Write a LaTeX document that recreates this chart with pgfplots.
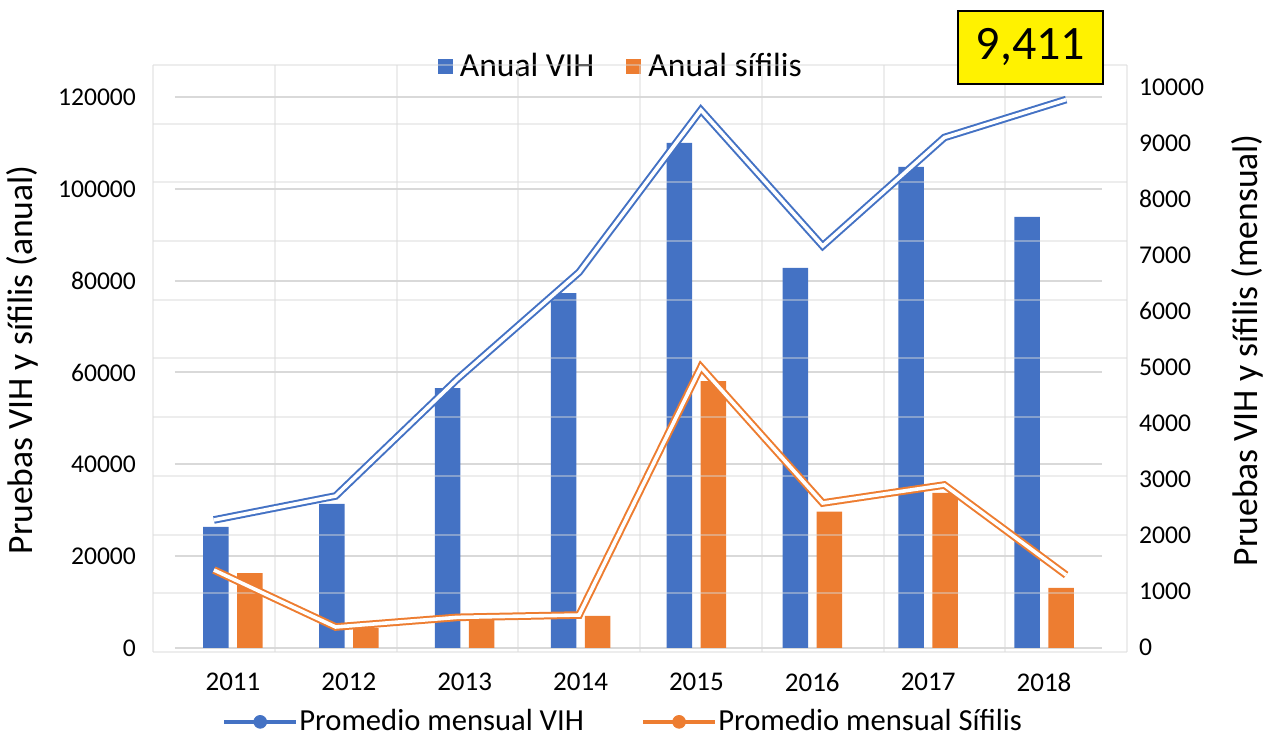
\documentclass[border=0pt]{standalone}
\usepackage{fontspec}
\setmainfont{Carlito}
\usepackage{pgfplots}
\usepackage{pgfplotstable}
\pgfplotsset{compat=1.18}
\definecolor{cBlue}{HTML}{4472C4}
\definecolor{cOrange}{HTML}{ED7D31}
\definecolor{cGrid}{HTML}{D9D9D9}
\definecolor{cFaint}{HTML}{D8D8D8}

% annual tests (left axis)
\pgfplotstableread{
idx VIH sifilis
0 26400 16300
1 31400 4400
2 56600 6800
3 77300 7000
4 110000 58100
5 82800 29700
6 104800 33800
7 93900 13100
}\anual

% monthly average (line chart, own 0-10000 scale)
\pgfplotstableread{
idx VIH sifilis
0 2249 1397
1 2658 426
2 4650 590
3 6470 630
4 9233 4855
5 6917 2538
6 8765 2845
7 9411 1312
}\mensual

\begin{document}
\begin{tikzpicture}
\useasboundingbox (-87.5pt,-45.5pt) rectangle (547.5pt,324pt);

% ---------------------------------------------------------------- bars
\begin{axis}[
  anchor=south west, at={(0pt,0pt)},
  width=463.5pt, height=275.5pt, scale only axis,
  xmin=-0.5, xmax=7.5, ymin=0, ymax=120000,
  ybar, bar width=0.22,
  xtick={0,...,7}, xticklabels={2011,2012,2013,2014,2015,2016,2017,2018},
  ytick={0,20000,...,120000},
  scaled y ticks=false,
  ymajorgrids, grid style={cGrid, line width=1pt},
  axis line style={draw=none}, major tick length=0pt,
  /pgf/number format/assume math mode=true,
  yticklabel style={/pgf/number format/fixed, /pgf/number format/set thousands separator={}, xshift=-16pt,
                    font=\fontsize{12.8}{15}\selectfont},
  xticklabel style={yshift=-9pt, font=\fontsize{13.5}{16}\selectfont},
  ylabel={Pruebas VIH y sífilis (anual)},
  every axis y label/.style={at={(axis description cs:-0.165,0.523)}, rotate=90, anchor=center, font=\fontsize{17.8}{20}\selectfont},
  legend style={at={(axis description cs:0.482,1.056)}, anchor=center, draw=none, fill=none,
                legend columns=2, font=\fontsize{16.8}{19}\selectfont,
                /tikz/every even column/.append style={column sep=14pt}},
  legend image code/.code={\fill[#1] (0pt,-3.7pt) rectangle (7.5pt,3.7pt); \path (9pt,0pt);},
]
\addplot[fill=cBlue, draw=none, bar shift=-0.147] table[x=idx,y=VIH]{\anual};
\addlegendentry{Anual VIH}
\addplot[fill=cOrange, draw=none, bar shift=0.147] table[x=idx,y=sifilis]{\anual};
\addlegendentry{Anual sífilis}
\end{axis}

% ---------------------------------------------------------------- lines
\begin{axis}[
  anchor=south west, at={(-11pt,-2pt)},
  width=487pt, height=293.5pt, scale only axis,
  xmin=-0.5, xmax=7.5, ymin=0, ymax=10000,
  xtick={-0.5,0.5,...,7.5}, ytick={0,1000,...,10000},
  xticklabels={}, yticklabels={}, scaled y ticks=false, scaled x ticks=false,
  xmajorgrids, ymajorgrids, grid style={draw=cFaint, opacity=0.45, line width=1pt},
  axis line style={draw=none}, major tick length=0pt,
  legend style={at={(axis description cs:0.482,-0.119)}, anchor=center, draw=none, fill=none,
                legend columns=2, font=\fontsize{15.3}{18}\selectfont,
                nodes={inner xsep=0.5pt},
                /tikz/every even column/.append style={column sep=28pt}},
  legend image code/.code={\draw[#1, line width=2.2pt] (0pt,0pt) -- (36pt,0pt); \fill[#1] (18pt,0pt) circle (3.2pt);},
]
\addplot[cBlue, line width=1pt, double=white, double distance=1.8pt, forget plot] table[x=idx,y=VIH]{\mensual};
\addplot[cOrange, line width=1pt, double=white, double distance=1.8pt, forget plot] table[x=idx,y=sifilis]{\mensual};
\addlegendimage{cBlue}
\addlegendentry{Promedio mensual VIH}
\addlegendimage{cOrange}
\addlegendentry{Promedio mensual Sífilis}
\end{axis}

% ---------------------------------------------------------------- right scale
\begin{axis}[
  anchor=south west, at={(-11pt,0.5pt)},
  width=487pt, height=280pt, scale only axis,
  xmin=0, xmax=1, ymin=0, ymax=10000,
  axis x line=none, axis y line*=right, y axis line style={draw=none}, major tick length=0pt,
  ytick={0,1000,...,10000}, scaled y ticks=false,
  /pgf/number format/assume math mode=true,
  yticklabel style={/pgf/number format/fixed, /pgf/number format/set thousands separator={}, xshift=2.5pt,
                    font=\fontsize{12.8}{15}\selectfont},
  ylabel={Pruebas VIH y sífilis (mensual)},
  every axis y label/.style={at={(axis description cs:1.124,0.53)}, rotate=90, anchor=center, font=\fontsize{17.8}{20}\selectfont},
]
\end{axis}

\node[draw=black, line width=0.8pt, fill=yellow, inner sep=0pt, minimum width=72.5pt, minimum height=36.5pt,
      font=\fontsize{24}{28}\selectfont] at (427.75pt,300.25pt) {9,411};
\end{tikzpicture}
\end{document}
